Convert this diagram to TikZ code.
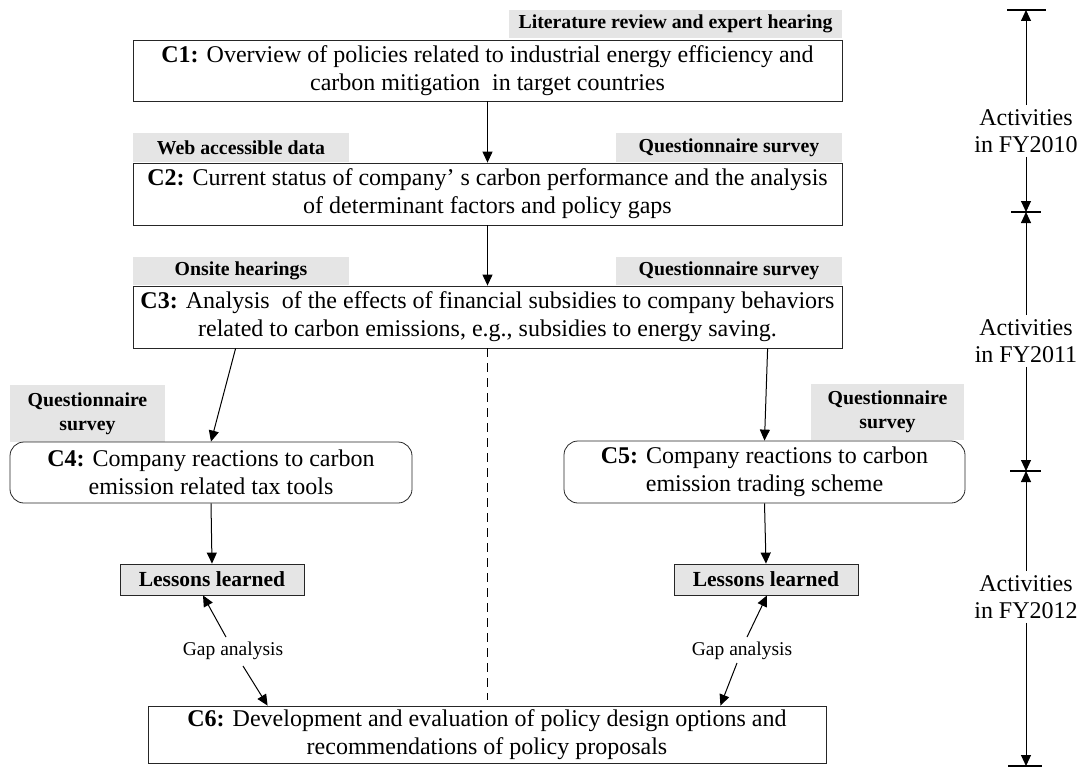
\documentclass[tikz,border=0pt]{standalone}
\usepackage{fontspec}
\setmainfont{Liberation Serif}
\usetikzlibrary{arrows.meta,calc}
\definecolor{tagfill}{RGB}{229,229,229}
\begin{document}
\begin{tikzpicture}[x=1pt,y=-1pt,
  every node/.style={inner sep=0pt, align=center},
  main/.style={draw=black!85, line width=0.8pt, font=\fontsize{24}{28}\selectfont},
  rbox/.style={main, rounded corners=14pt},
  tag/.style={fill=tagfill, font=\fontsize{19.8}{24}\selectfont\bfseries},
  lesson/.style={draw=black!85, line width=0.8pt, fill=tagfill, font=\fontsize{21.5}{24}\selectfont\bfseries},
  arr/.style={line width=1pt, -{Triangle[length=11pt,width=10pt]}},
  gap/.style={font=\fontsize{19.5}{22}\selectfont},
  span/.style={font=\fontsize{24}{27}\selectfont, fill=white, inner ysep=4pt},
  bar/.style={line width=1.2pt}
]
\useasboundingbox (0,0) rectangle (1083,768);

% C1
\node[tag, minimum width=333, minimum height=28] (litTag) at (675.5,24) {Literature review and expert hearing};
\node[main, minimum width=709, minimum height=61] (c1) at (487.5,70.5)
  {\textbf{C1:} Overview of policies related to industrial energy efficiency and\\carbon mitigation~ in target countries};

% C2
\node[tag, minimum width=216, minimum height=29] (webTag) at (241,147.5) {Web accessible data};
\node[tag, minimum width=226, minimum height=29] (qTagA) at (729,147.5) {Questionnaire survey};
\node[main, minimum width=709, minimum height=62] (c2) at (487.5,194)
  {\textbf{C2:} Current status of company’ s carbon performance and the analysis\\of determinant factors and policy gaps};

% C3
\node[tag, minimum width=216, minimum height=28] (siteTag) at (241,271) {Onsite hearings};
\node[tag, minimum width=226, minimum height=28] (qTagB) at (729,271) {Questionnaire survey};
\node[main, minimum width=709, minimum height=62] (c3) at (487.5,317)
  {\textbf{C3:} Analysis~ of the effects of financial subsidies to company behaviors\\related to carbon emissions, e.g., subsidies to energy saving.};

% C4 and C5
\node[tag, minimum width=155, minimum height=57] (qTagC) at (87.5,413.5) {Questionnaire\\survey};
\node[rbox, minimum width=402, minimum height=61] (c4) at (211,472.5)
  {\textbf{C4:} Company reactions to carbon\\emission related tax tools};
\node[tag, minimum width=153, minimum height=56] (qTagD) at (887.5,412) {Questionnaire\\survey};
\node[rbox, minimum width=401, minimum height=62] (c5) at (764.5,472)
  {\textbf{C5:} Company reactions to carbon\\emission trading scheme};

% lessons
\node[lesson, minimum width=184, minimum height=31] (llA) at (212,579.5) {Lessons learned};
\node[lesson, minimum width=184, minimum height=31] (llB) at (766,579.5) {Lessons learned};

% C6
\node[main, minimum width=678, minimum height=57] (c6) at (487,734.5)
  {\textbf{C6:} Development and evaluation of policy design options and\\recommendations of policy proposals};

\node[gap] (gapA) at (233,651) {Gap analysis};
\node[gap] (gapB) at (742,651) {Gap analysis};

% flow
\draw[arr] (c1) -- (c2);
\draw[arr] (c2) -- (c3);
\draw[arr] ([xshift=103pt]c3.south west) -- (c4.north);
\draw[arr] ([xshift=635pt]c3.south west) -- (c5.north);
\draw[arr] (c4.south) -- (llA.north);
\draw[arr] (c5.south) -- (llB.north);
\draw[line width=1pt, dash pattern=on 9pt off 6pt] (c3.south) -- ([yshift=6pt]c3.south |- c6.north);

% gap analysis
\draw[arr] ([shift={(-7pt,14pt)}]gapA.center) -- ([xshift=-9pt]llA.south);
\draw[arr] ([shift={(10pt,-15pt)}]gapA.center) -- ([xshift=120pt]c6.north west);
\draw[arr] ([shift={(5pt,14pt)}]gapB.center) -- ([xshift=1pt]llB.south);
\draw[arr] ([shift={(-5pt,-12pt)}]gapB.center) -- ([xshift=-106pt]c6.north east);

% time line
\coordinate (tA) at (1026,10);
\coordinate (tB) at (1026,212);
\coordinate (tC) at (1026,471);
\coordinate (tD) at (1026,766);
\node[span] (fyA) at (1026,131) {Activities\\in FY2010};
\node[span] (fyB) at (1026,341) {Activities\\in FY2011};
\node[span] (fyC) at (1026,597) {Activities\\in FY2012};
\draw[arr] (fyA) -- (tA);
\draw[arr] (fyA) -- (tB);
\draw[arr] (fyB) -- (tB);
\draw[arr] (fyB) -- (tC);
\draw[arr] (fyC) -- (tC);
\draw[arr] (fyC) -- (tD);
\draw[bar] ([xshift=-19pt]tA) -- ([xshift=20pt]tA);
\draw[bar] ([xshift=-15pt]tB) -- ([xshift=15pt]tB);
\draw[bar] ([xshift=-16pt]tC) -- ([xshift=15pt]tC);
\draw[bar] ([xshift=-18pt]tD) -- ([xshift=16pt]tD);
\end{tikzpicture}
\end{document}
